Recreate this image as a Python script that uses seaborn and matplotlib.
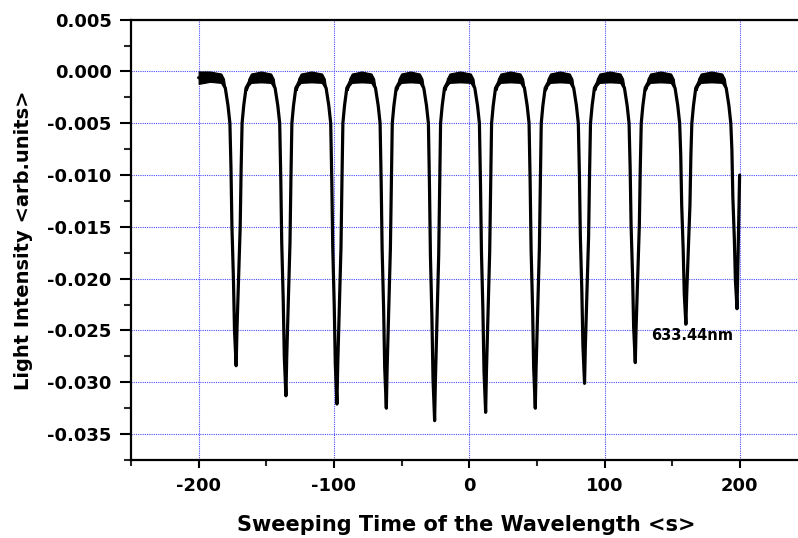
import matplotlib
matplotlib.use("Agg")
import numpy as np
import pandas as pd
import matplotlib.pyplot as plt
import seaborn as sns
from matplotlib.ticker import MultipleLocator, FormatStrFormatter

# ---- data ----
dip_centers = [-172.3, -135.5, -97.8, -61.3, -25.6, 12.1, 48.8, 85.2, 122.7, 160.1, 197.9]
dip_depths = [-0.0284, -0.0313, -0.0321, -0.0325, -0.0337, -0.0329, -0.0325,
              -0.0301, -0.0281, -0.0244, -0.0229]
# wall profile of one dip (offset from centre in s, level in arb. units / fraction of depth)
upper_offsets_left = [-10.5, -8.0, -6.0, -4.6]
upper_levels = [-0.0010, -0.0016, -0.0033, -0.0050]
upper_offsets_right = [4.4, 5.6, 7.3, 9.8]
lower_offsets_left = [-3.8, -3.1, -2.0, -1.2]
lower_fracs = [0.33, 0.528, 0.704, 0.88]
lower_offsets_right = [0.6, 1.8, 3.0, 3.7]
trace_start = (-200.0, -0.0006)
trace_end = (199.8, -0.0100)
# noisy plateau band between dips (offset from dip centre, upper / lower level)
band_offsets = [7.8, 9.0, 11.0]
band_upper = [-0.0018, -0.0007, -0.0002]
band_lower = [-0.0018, -0.0014, -0.0011]
band_mid_upper = 0.0000
band_mid_lower = -0.0010
label_text = "633.44nm"
label_pos = (164.6, -0.0255)

# ---- build trace ----
xs, ys = [trace_start[0]], [trace_start[1]]
n = len(dip_centers)
for i, (c, d) in enumerate(zip(dip_centers, dip_depths)):
    for o, lv in zip(upper_offsets_left, upper_levels):
        xs.append(c + o); ys.append(lv)
    for o, f in zip(lower_offsets_left, lower_fracs):
        xs.append(c + o); ys.append(d * f)
    xs.append(c); ys.append(d)
    if i == n - 1:
        break
    for o, f in zip(lower_offsets_right, lower_fracs[::-1]):
        xs.append(c + o); ys.append(d * f)
    for o, lv in zip(upper_offsets_right, upper_levels[::-1]):
        xs.append(c + o); ys.append(lv)
xs.append(trace_end[0]); ys.append(trace_end[1])
trace = pd.DataFrame({"t": xs, "I": ys})

# bands
bands = []
first_c = dip_centers[0]
bx = [-200.0, (-200.0 + first_c - 11.0) / 2, first_c - 11.0, first_c - 9.0, first_c - 7.8]
bu = [band_mid_upper, band_mid_upper, band_upper[2], band_upper[1], band_upper[0]]
bl = [-0.0012, band_mid_lower, band_lower[2], band_lower[1], band_lower[0]]
bands.append((bx, bu, bl))
for i in range(n - 1):
    c0, c1 = dip_centers[i], dip_centers[i + 1]
    mid = (c0 + c1) / 2
    bx = [c0 + o for o in band_offsets] + [mid] + [c1 - o for o in band_offsets[::-1]]
    bu = band_upper + [band_mid_upper] + band_upper[::-1]
    bl = band_lower + [band_mid_lower] + band_lower[::-1]
    bands.append((bx, bu, bl))

# ---- plot ----
sns.set_theme(style="ticks")
plt.rcParams["font.family"] = ["DejaVu Sans"]
plt.rcParams["axes.unicode_minus"] = False

fig = plt.figure(figsize=(7.98, 5.38), dpi=100)
ax = fig.add_axes([0.16416, 0.1450, 0.8393, 0.8184])

for bx, bu, bl in bands:
    ax.fill_between(bx, bu, bl, color="black", linewidth=0.8, edgecolor="black")

sns.lineplot(data=trace, x="t", y="I", sort=False, estimator=None,
             color="black", linewidth=2.3, ax=ax)

ax.set_xlim(-250, 245)
ax.set_ylim(-0.0375, 0.005)
ax.xaxis.set_major_locator(MultipleLocator(100))
ax.xaxis.set_minor_locator(MultipleLocator(50))
ax.yaxis.set_major_locator(MultipleLocator(0.005))
ax.yaxis.set_minor_locator(MultipleLocator(0.0025))
ax.yaxis.set_major_formatter(FormatStrFormatter("%.3f"))
ax.xaxis.set_major_formatter(FormatStrFormatter("%d"))

ax.grid(True, which="major", color="#4a4aff", linestyle=(0, (1, 1)), linewidth=0.8)
ax.set_axisbelow(True)

for s in ax.spines.values():
    s.set_linewidth(1.6)
    s.set_color("black")

ax.tick_params(axis="y", which="major", direction="out", length=8, width=1.5, pad=6,
               labelsize=13, colors="black")
ax.tick_params(axis="y", which="minor", direction="out", length=5, width=1.5)
ax.tick_params(axis="x", which="major", direction="out", length=5.5, width=1.5, pad=7,
               labelsize=13, colors="black")
ax.tick_params(axis="x", which="minor", direction="out", length=4, width=1.5)
for lab in ax.get_xticklabels() + ax.get_yticklabels():
    lab.set_fontweight("bold")

ax.set_xlabel("Sweeping Time of the Wavelength <s>", fontsize=15, fontweight="bold",
              labelpad=14, color="black")
ax.set_ylabel("Light Intensity <arb.units>", fontsize=14, fontweight="bold",
              labelpad=10, color="black")

ax.text(label_pos[0], label_pos[1], label_text, ha="center", va="center",
        fontsize=10.5, fontweight="bold", color="black")

fig.savefig("out.png", dpi=100)
